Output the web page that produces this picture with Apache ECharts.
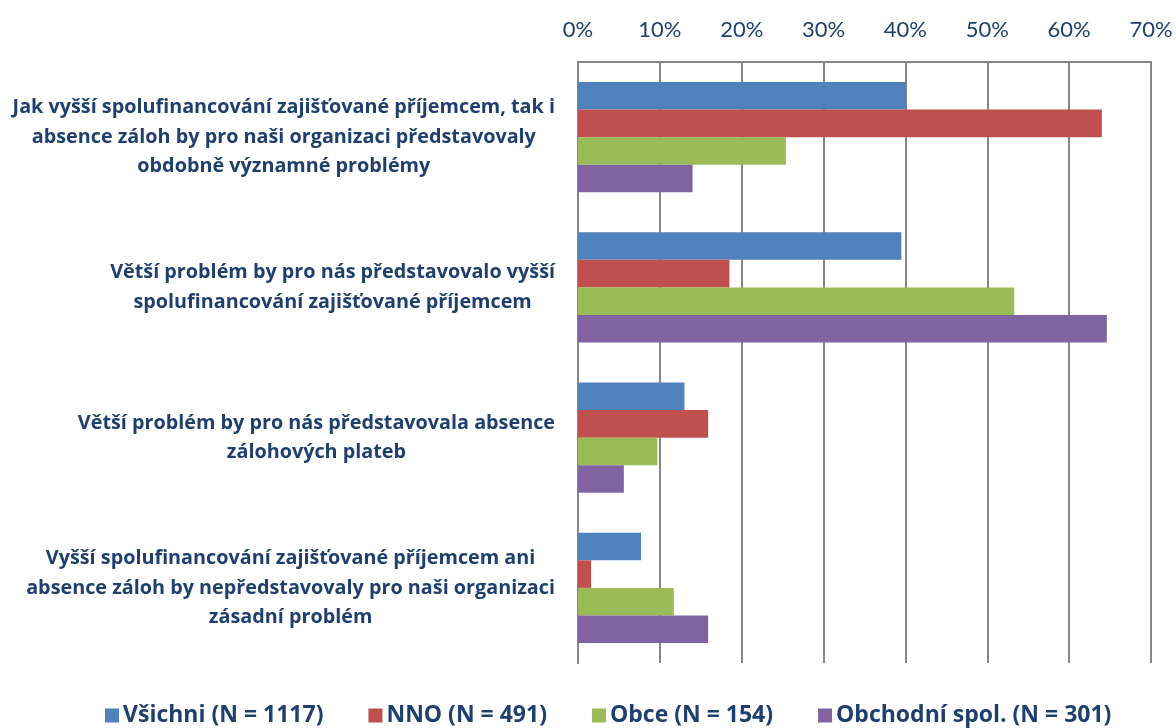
<!DOCTYPE html>
<html><head><meta charset="utf-8">
<script src="https://cdn.jsdelivr.net/npm/echarts@6/dist/echarts.min.js"></script>
<style>html,body{margin:0;padding:0;background:#fff}#c{width:1176px;height:728px}</style>
</head><body><div id="c"></div>
<script>
const categories = [
  "Jak vyšší spolufinancování zajišťované příjemcem, tak i\nabsence záloh by pro naši organizaci představovaly\nobdobně významné problémy",
  "Větší problém by pro nás představovalo vyšší\nspolufinancování zajišťované příjemcem",
  "Větší problém by pro nás představovala absence\nzálohových plateb",
  "Vyšší spolufinancování zajišťované příjemcem ani\nabsence záloh by nepředstavovaly pro naši organizaci\nzásadní problém"
];
const seriesNames = ["Všichni (N = 1117)", "NNO (N = 491)", "Obce (N = 154)", "Obchodní spol. (N = 301)"];
const vsichni = [40.1, 39.5, 13.0, 7.7];
const nno = [64.0, 18.5, 15.9, 1.6];
const obce = [25.4, 53.3, 9.7, 11.7];
const obchodni = [14.0, 64.6, 5.6, 15.9];
const colors = ["#4F81BD", "#C0504D", "#9BBB59", "#8064A2"];
const textColor = "#1F3F6E";
const font = "Open Sans";

const chart = echarts.init(document.getElementById('c'), null, {renderer: 'canvas'});
const values = [vsichni, nno, obce, obchodni];
chart.setOption({
  animation: false,
  grid: {left: 578, right: 25, top: 62, bottom: 65, containLabel: false},
  legend: {
    bottom: -4, left: 100, itemWidth: 14, itemHeight: 14, itemGap: 45,
    icon: 'rect',
    textStyle: {fontFamily: font, fontWeight: 'bold', fontSize: 23, color: textColor, padding: [0, 0, 0, -1]},
    data: seriesNames
  },
  xAxis: {
    type: 'value', position: 'top', min: 0, max: 70, interval: 10,
    axisLine: {show: true, lineStyle: {color: '#868686', width: 2}},
    axisTick: {show: false},
    splitLine: {show: true, lineStyle: {color: '#868686', width: 2}},
    axisLabel: {formatter: '{value}%', fontFamily: 'Lato', fontSize: 22, color: textColor, margin: 21}
  },
  yAxis: {
    type: 'category', inverse: true, data: categories,
    axisLine: {show: true, lineStyle: {color: '#868686', width: 2}},
    axisTick: {show: false},
    axisLabel: {
      margin: 23, align: 'right',
      formatter: function (v) { return v.split('\n').map(l => '{c|' + l + '}').join('\n'); },
      rich: {c: {align: 'center', fontFamily: font, fontWeight: 'bold', fontSize: 19.8, color: textColor, lineHeight: 29.5}}
    }
  },
  series: seriesNames.map((n, i) => ({
    name: n, type: 'bar', data: values[i], barGap: '0%', barCategoryGap: '26.7%',
    itemStyle: {color: colors[i]}
  }))
});
</script></body></html>
